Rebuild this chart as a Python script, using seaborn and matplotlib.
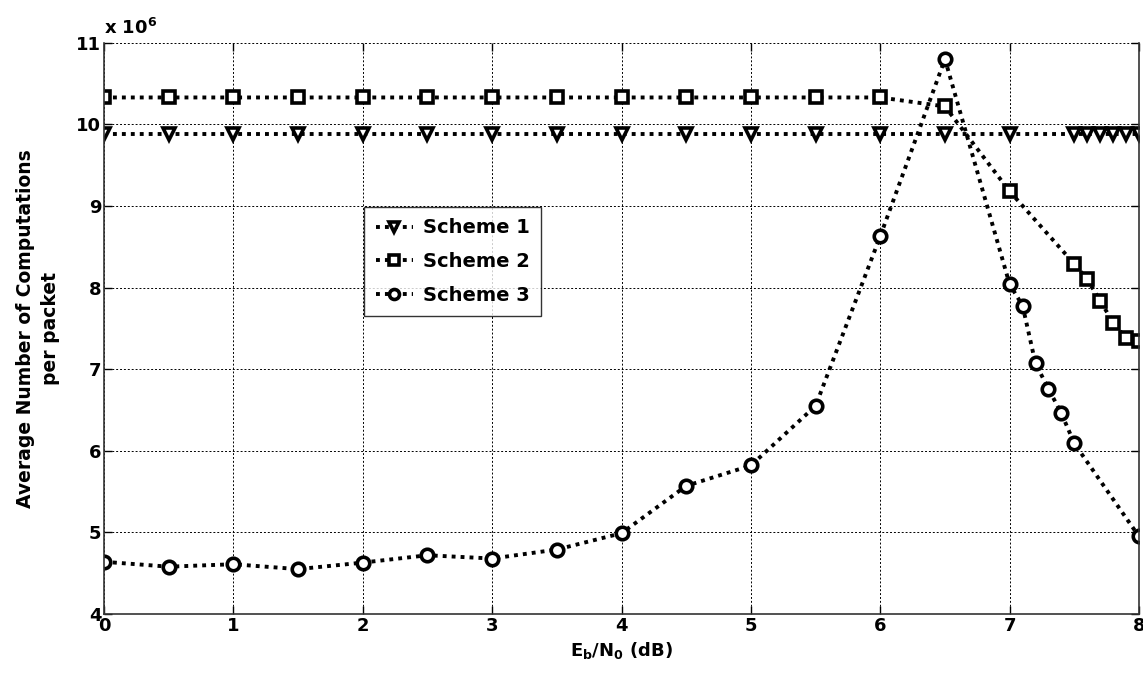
import numpy as np
import pandas as pd
import matplotlib
matplotlib.use("Agg")
import matplotlib.pyplot as plt
import seaborn as sns

# ---- data (values in units of 10^6) ----
x_s1 = [0, 0.5, 1, 1.5, 2, 2.5, 3, 3.5, 4, 4.5, 5, 5.5, 6, 6.5, 7, 7.5, 7.6, 7.7, 7.8, 7.9, 8.0]
y_s1 = [9.88] * 21

x_s2 = [0, 0.5, 1, 1.5, 2, 2.5, 3, 3.5, 4, 4.5, 5, 5.5, 6, 6.5, 7, 7.5, 7.6, 7.7, 7.8, 7.9, 8.0]
y_s2 = [10.33, 10.33, 10.33, 10.33, 10.33, 10.33, 10.33, 10.33, 10.33, 10.33, 10.33, 10.33, 10.33,
        10.22, 9.18, 8.29, 8.10, 7.84, 7.57, 7.38, 7.34]

x_s3 = [0, 0.5, 1, 1.5, 2, 2.5, 3, 3.5, 4, 4.5, 5, 5.5, 6, 6.5, 7, 7.1, 7.2, 7.3, 7.4, 7.5, 8.0]
y_s3 = [4.64, 4.58, 4.61, 4.55, 4.63, 4.72, 4.68, 4.79, 4.99, 5.57, 5.82, 6.55, 8.63, 10.80,
        8.04, 7.78, 7.07, 6.76, 6.46, 6.09, 4.95]

series_names = ["Scheme 1", "Scheme 2", "Scheme 3"]
markers = ["v", "s", "o"]
xticks = [0, 1, 2, 3, 4, 5, 6, 7, 8]
yticks = [4, 5, 6, 7, 8, 9, 10, 11]

sns.set_theme(style="white")
plt.rcParams["font.family"] = ["DejaVu Sans"]
plt.rcParams["font.weight"] = "bold"
plt.rcParams["text.color"] = "black"
plt.rcParams["axes.labelcolor"] = "black"
plt.rcParams["xtick.color"] = "black"
plt.rcParams["ytick.color"] = "black"
plt.rcParams["mathtext.fontset"] = "custom"
plt.rcParams["mathtext.rm"] = "DejaVu Sans:bold"
plt.rcParams["mathtext.bf"] = "DejaVu Sans:bold"
plt.rcParams["mathtext.it"] = "DejaVu Sans:bold"

fig = plt.figure(figsize=(11.43, 6.76), dpi=100)
ax = fig.add_axes([0.091, 0.0917, 0.9055, 0.845])

xs = [x_s1, x_s2, x_s3]
ys = [y_s1, y_s2, y_s3]
for name, mk, xv, yv in zip(series_names, markers, xs, ys):
    df = pd.DataFrame({"x": xv, "y": yv})
    sns.lineplot(data=df, x="x", y="y", ax=ax, color="black", linestyle=(0, (1, 1.3)),
                 linewidth=2.8, marker=mk, markersize=9, markerfacecolor="white",
                 markeredgecolor="black", markeredgewidth=2.6, label=name, sort=False)

ax.set_xlim(0, 8)
ax.set_ylim(4, 11)
ax.set_xticks(xticks)
ax.set_yticks(yticks)
ax.set_xticklabels([str(t) for t in xticks], fontsize=13, fontweight="bold", color="black")
ax.set_yticklabels([str(t) for t in yticks], fontsize=13, fontweight="bold", color="black")
ax.grid(True, linestyle=(0, (2, 2)), color="black", linewidth=0.7)
ax.tick_params(direction="in", length=6, width=1, top=True, right=True, bottom=True, left=True,
               pad=2, colors="black")
for s in ["left", "bottom", "right"]:
    ax.spines[s].set_color("#333333")
    ax.spines[s].set_linewidth(1.2)
ax.spines["top"].set_visible(False)

ax.set_xlabel(r"E$_{\mathbf{b}}$/N$_{\mathbf{0}}$ (dB)", fontsize=13, fontweight="bold",
              labelpad=4, color="black")
ax.set_ylabel("Average Number of Computations\nper packet", fontsize=13.5, fontweight="bold",
              labelpad=12, linespacing=1.35, color="black")

ax.text(0.0, 1.008, r"x 10$^{6}$", transform=ax.transAxes, fontsize=13, fontweight="bold",
        ha="left", va="bottom", color="black")

leg = ax.legend(loc="upper left", bbox_to_anchor=(0.242, 0.73), fontsize=14, frameon=True,
                fancybox=False, edgecolor="black", handlelength=1.9, borderpad=0.6,
                labelspacing=0.75, handletextpad=0.5, markerscale=0.8)
leg.get_frame().set_linewidth(1.0)
for t in leg.get_texts():
    t.set_fontweight("bold")
    t.set_color("black")

fig.savefig("out.png", dpi=100)
